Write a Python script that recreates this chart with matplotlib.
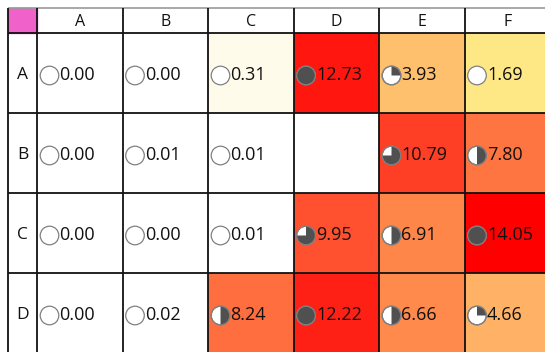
import numpy as np
import matplotlib
matplotlib.use("Agg")
import matplotlib.pyplot as plt
from matplotlib.colors import LinearSegmentedColormap, Normalize
from matplotlib.patches import Circle, Wedge, Rectangle

# ---- data ----
col_labels = ["A", "B", "C", "D", "E", "F"]
row_labels = ["A", "B", "C", "D"]
values = np.array([
    [0.00, 0.00, 0.31, 12.73, 3.93, 1.69],
    [0.00, 0.01, 0.01, np.nan, 10.79, 7.80],
    [0.00, 0.00, 0.01, 9.95, 6.91, 14.05],
    [0.00, 0.02, 8.24, 12.22, 6.66, 4.66],
])

# ---- layout (pixel units, figure is 545x352) ----
left, head_w, col_w = 8, 29, 85.5
top, head_h, row_h = 8, 25, 80
x_edges = left + head_w + col_w * np.arange(len(col_labels) + 1)
y_edges = top + head_h + row_h * np.arange(len(row_labels) + 1)

cmap = LinearSegmentedColormap.from_list("heat", [
    (0.00, "#FFFFFF"), (0.12, "#FDE883"), (0.28, "#FFC06E"),
    (0.48, "#FF884A"), (0.71, "#FF5030"), (0.87, "#FF2015"), (1.00, "#FF0000"),
])
cmap.set_bad("white")
vmax = np.nanmax(values)
norm = Normalize(0, vmax)

fig = plt.figure(figsize=(5.45, 3.52), dpi=100)
ax = fig.add_axes([0, 0, 1, 1])
ax.set_xlim(0, 545)
ax.set_ylim(352, 0)
ax.axis("off")

ax.pcolormesh(x_edges, y_edges, np.ma.masked_invalid(values), cmap=cmap, norm=norm)

# pink corner cell
ax.add_patch(Rectangle((left, top), head_w, head_h, color="#F062C9", zorder=1))

# grid lines
lc = "#111111"
ax.hlines(top, left, 560, color="#9A9A9A", lw=1.2, zorder=3)
ax.hlines(y_edges, left, 560, color=lc, lw=1.3, zorder=3)
ax.vlines([left], top, 360, color=lc, lw=1.3, zorder=3)
ax.vlines(x_edges, top, 360, color=lc, lw=1.3, zorder=3)

font = "Open Sans"
for j, c in enumerate(col_labels):
    ax.text((x_edges[j] + x_edges[j + 1]) / 2, top + head_h / 2 + 1.5, c,
            ha="center", va="center", fontsize=11.5, family=font, color="#111111")
for i, r in enumerate(row_labels):
    ax.text(left + head_w / 2, (y_edges[i] + y_edges[i + 1]) / 2 + 2, r,
            ha="center", va="center", fontsize=12.5, family=font, color="#111111")

# Harvey balls (Excel icon-set thresholds by percent of max)
for i in range(len(row_labels)):
    for j in range(len(col_labels)):
        v = values[i, j]
        if np.isnan(v):
            continue
        cx = x_edges[j] + 12.5
        cy = (y_edges[i] + y_edges[i + 1]) / 2 + 2.5
        p = v / vmax
        frac = 1.0 if p >= 0.8 else 0.75 if p >= 0.6 else 0.5 if p >= 0.4 else 0.25 if p >= 0.2 else 0.0
        ax.add_patch(Circle((cx, cy), 9.3, facecolor="white", edgecolor="#808080", lw=0.9, zorder=4))
        if frac > 0:
            if frac == 1.0:
                ax.add_patch(Circle((cx, cy), 9.3, facecolor="#505050", edgecolor="#808080", lw=0.9, zorder=5))
            else:
                ax.add_patch(Wedge((cx, cy), 9.3, -90, -90 + 360 * frac,
                                   facecolor="#505050", edgecolor="none", zorder=5))
                ax.add_patch(Circle((cx, cy), 9.3, facecolor="none", edgecolor="#808080", lw=0.9, zorder=6))
        ax.text(x_edges[j] + 22.5, cy, f"{v:.2f}", ha="left", va="center",
                fontsize=13, family=font, color="#111111", zorder=7)

fig.savefig("out.png", dpi=100)
